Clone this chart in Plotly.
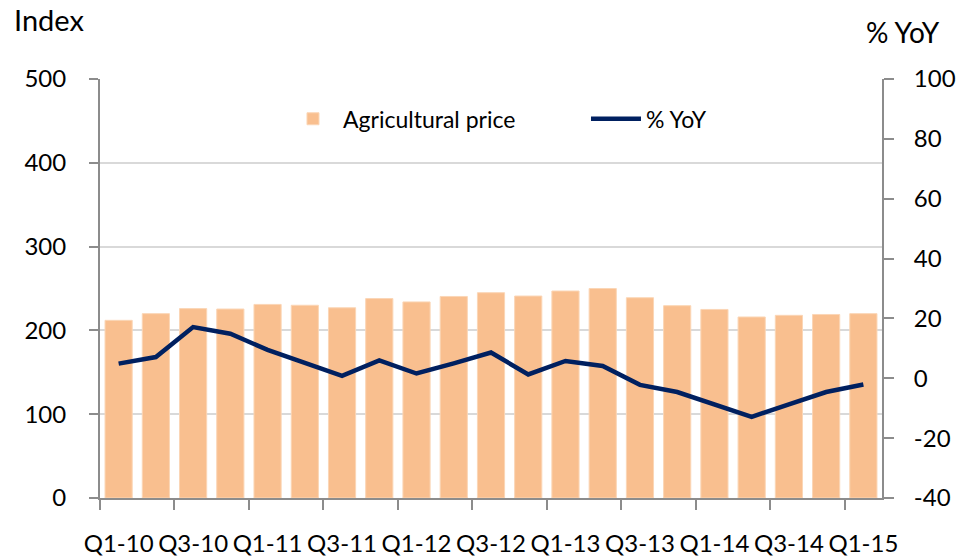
import plotly.graph_objects as go

quarters = ["Q1-10", "Q2-10", "Q3-10", "Q4-10",
            "Q1-11", "Q2-11", "Q3-11", "Q4-11",
            "Q1-12", "Q2-12", "Q3-12", "Q4-12",
            "Q1-13", "Q2-13", "Q3-13", "Q4-13",
            "Q1-14", "Q2-14", "Q3-14", "Q4-14",
            "Q1-15"]
agri_price = [212, 220, 226, 225.5, 231, 230, 227, 238, 234, 240.5, 245,
              241, 247, 250, 239, 229.5, 225, 216, 218, 219, 220]
yoy = [4.9, 7.1, 17.1, 14.9, 9.5, 5.1, 0.8, 6.0, 1.6, 5.0, 8.6,
       1.3, 5.8, 4.1, -2.2, -4.6, -8.7, -12.9, -8.7, -4.6, -2.1]
yoy_ticks = [-40, -20, 0, 20, 40, 60, 80, 100]
yoy_tick_text = ["-40", "-20", "0", "20", "40", "60", "80", "100"]

x_idx = list(range(len(quarters)))
label_idx = x_idx[::2]
label_text = [quarters[i] for i in label_idx]
boundary_ticks = [i - 0.5 for i in label_idx]

FONT = "Lato"
AXIS_GRAY = "#8C8C8C"
TXT = "#000000"

fig = go.Figure()
fig.add_trace(go.Bar(
    x=x_idx, y=agri_price, name="Agricultural price",
    marker=dict(color="#F9BF8F", line=dict(color="#FBD6B6", width=1)),
    width=0.73, yaxis="y",
))
fig.add_trace(go.Scatter(
    x=x_idx, y=yoy, name="% YoY", mode="lines",
    line=dict(color="#002060", width=4.5),
    yaxis="y2",
))

fig.update_layout(
    width=957, height=558,
    margin=dict(l=100, r=75, t=79, b=60, autoexpand=False),
    paper_bgcolor="white", plot_bgcolor="white",
    font=dict(family=FONT, size=24, color=TXT),
    showlegend=True,
    legend=dict(orientation="h", x=0.234, y=0.905, xanchor="left", yanchor="middle",
                font=dict(family=FONT, size=23, color=TXT),
                bgcolor="rgba(0,0,0,0)", itemwidth=50, entrywidthmode="pixels",
                entrywidth=238, tracegroupgap=0),
    bargap=0.27,
    xaxis=dict(
        range=[-0.5, len(quarters) - 0.5], automargin=False,
        tickmode="array", tickvals=label_idx, ticktext=label_text,
        ticks="", showgrid=False, zeroline=False,
        showline=True, linecolor=AXIS_GRAY, linewidth=2,
        ticklabelstandoff=23,
        tickfont=dict(family=FONT, size=24, color=TXT),
        minor=dict(tickmode="array", tickvals=boundary_ticks, ticks="outside",
                   ticklen=10, tickcolor=AXIS_GRAY, tickwidth=2, showgrid=False),
    ),
    yaxis=dict(
        range=[0, 500], dtick=100, tick0=0, automargin=False,
        showgrid=True, gridcolor="#D9D9D9", gridwidth=1.5,
        zeroline=False, showline=True, linecolor=AXIS_GRAY, linewidth=2,
        ticks="outside", ticklen=9, tickcolor=AXIS_GRAY, tickwidth=2,
        ticklabelstandoff=18,
        tickfont=dict(family=FONT, size=24, color=TXT),
    ),
    yaxis2=dict(
        range=[-40, 100], tickmode="array", tickvals=yoy_ticks, ticktext=yoy_tick_text,
        overlaying="y", side="right", automargin=False,
        showgrid=False, zeroline=False, showline=True,
        linecolor=AXIS_GRAY, linewidth=2,
        ticks="outside", ticklen=10, tickcolor=AXIS_GRAY, tickwidth=2,
        ticklabelstandoff=15,
        tickfont=dict(family=FONT, size=24, color=TXT),
    ),
    annotations=[
        dict(text="Index", xref="paper", yref="paper", x=-0.1125, y=1.141,
             xanchor="left", yanchor="middle", showarrow=False,
             font=dict(family=FONT, size=29, color=TXT)),
        dict(text="% YoY", xref="paper", yref="paper", x=1.0767, y=1.112,
             xanchor="right", yanchor="middle", showarrow=False,
             font=dict(family=FONT, size=28, color=TXT)),
    ],
)

fig.write_html(
    "out.html",
    config={"displayModeBar": False},
    post_script="document.body.style.margin='0';document.body.style.overflow='hidden';",
)
